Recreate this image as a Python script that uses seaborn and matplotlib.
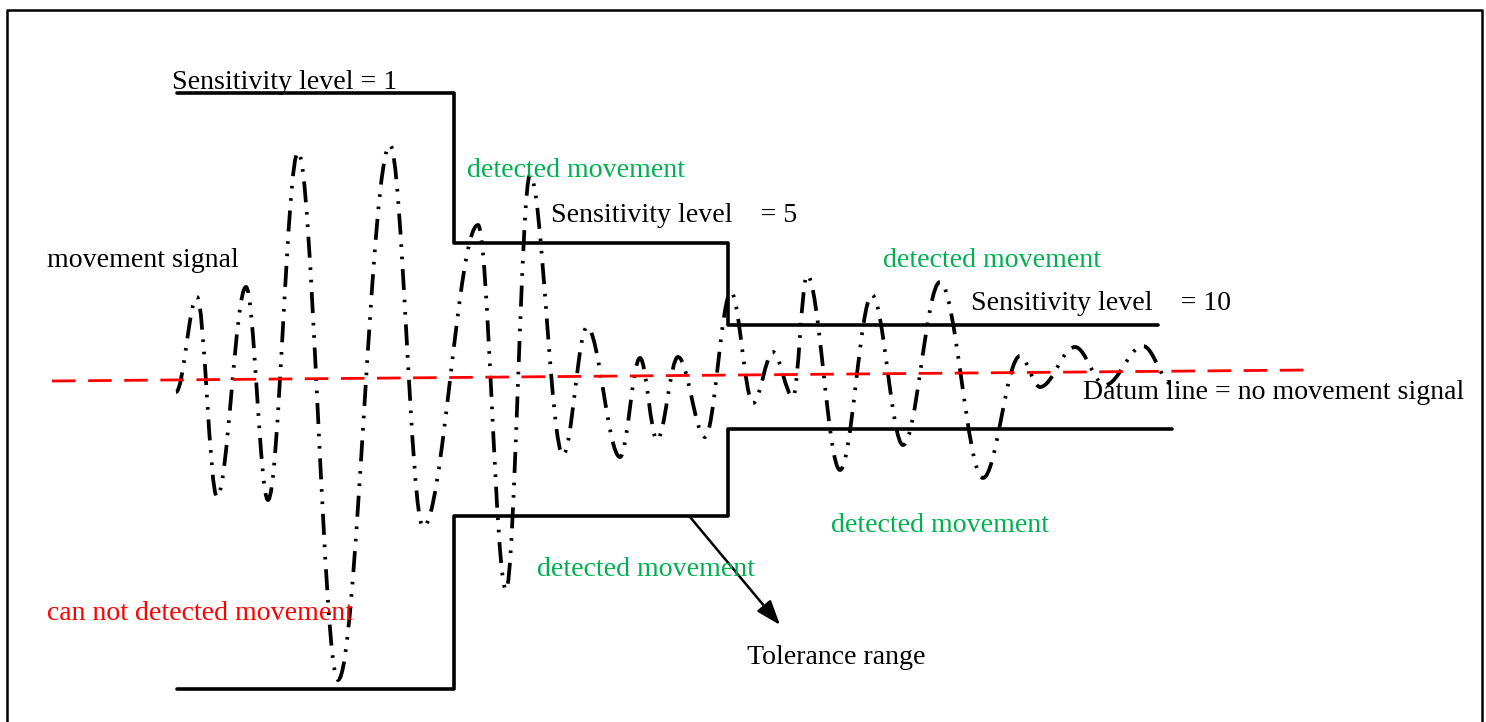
import numpy as np
import pandas as pd
import seaborn as sns
import matplotlib
matplotlib.use("Agg")
import matplotlib.pyplot as plt
from matplotlib.path import Path
from matplotlib.patches import PathPatch, FancyArrowPatch

# ---------------- data (diagram coordinates, pixels, y downwards) ----------------
# movement signal: successive extrema of the oscillation
sig_x = [176, 197, 217, 246, 268, 298, 338, 390, 423, 478, 506, 530, 563, 587, 620,
         640, 657, 678, 705, 731, 753, 773, 793, 807, 840, 872, 903, 940, 983, 1020,
         1040, 1075, 1105, 1143, 1172]
sig_y = [392, 297, 497, 287, 500, 152, 680, 145, 527, 225, 590, 175, 455, 327, 457,
         358, 440, 357, 437, 292, 403, 352, 397, 275, 470, 295, 445, 282, 478, 356,
         387, 347, 385, 346, 384]

# tolerance boundaries (step lines) for sensitivity levels 1, 5, 10
upper_x = [177, 454, 454, 728, 728, 1158]
upper_y = [93, 93, 243, 243, 325, 325]
lower_x = [177, 454, 454, 728, 728, 1172]
lower_y = [689, 689, 516, 516, 429, 429]

# datum line
datum_x = [52, 1310]
datum_y = [381, 370]

labels = [
    ("Sensitivity level = 1", 172, 89, "black"),
    ("detected movement", 467, 177, "green"),
    ("Sensitivity level    = 5", 551, 222, "black"),
    ("movement signal", 47, 267, "black"),
    ("detected movement", 883, 267, "green"),
    ("Sensitivity level    = 10", 971, 310, "black"),
    ("Datum line = no movement signal", 1083, 399, "black"),
    ("detected movement", 831, 532, "green"),
    ("detected movement", 537, 576, "green"),
    ("can not detected movement", 47, 620, "red"),
    ("Tolerance range", 747, 664, "black"),
]
arrow_start = (690, 517)
arrow_end = (780, 625)

colors = {"black": "#000000", "green": "#00B050", "red": "#FF0000"}

# ---------------- drawing ----------------
sns.set_theme(style="white")
plt.rcParams["font.family"] = ["Liberation Serif", "DejaVu Serif"]

W, H = 1486, 722
fig = plt.figure(figsize=(W / 100, H / 100), dpi=100)
ax = fig.add_axes([0, 0, 1, 1])
ax.set_xlim(0, W)
ax.set_ylim(H, 0)
ax.axis("off")

# frame (open at the bottom, continues past the image edge)
ax.plot([7, 7, 1482, 1482], [H + 5, 10, 10, H + 5], color="black", lw=1.8)

# step lines
up = pd.DataFrame({"x": upper_x, "y": upper_y})
lo = pd.DataFrame({"x": lower_x, "y": lower_y})
sns.lineplot(data=up, x="x", y="y", sort=False, estimator=None, color="black",
             lw=2.6, ax=ax)
sns.lineplot(data=lo, x="x", y="y", sort=False, estimator=None, color="black",
             lw=2.6, ax=ax)

# datum line
dt = pd.DataFrame({"x": datum_x, "y": datum_y})
sns.lineplot(data=dt, x="x", y="y", sort=False, estimator=None, color="#FF0000",
             lw=2.0, ax=ax, linestyle=(0, (8.5, 4.5)))

# movement signal: smooth Bezier segments between extrema
verts = [(sig_x[0], sig_y[0])]
codes = [Path.MOVETO]
for i in range(1, len(sig_x)):
    x0, y0 = sig_x[i - 1], sig_y[i - 1]
    x1, y1 = sig_x[i], sig_y[i]
    dx = x1 - x0
    verts += [(x0 + 0.36 * dx, y0), (x1 - 0.36 * dx, y1), (x1, y1)]
    codes += [Path.CURVE4] * 3
patch = PathPatch(Path(verts, codes), fill=False, edgecolor="black", lw=2.7,
                  linestyle=(0, (5.6, 2.6, 0.7, 2.6, 0.7, 2.6)))
ax.add_patch(patch)

# arrow
ax.add_patch(FancyArrowPatch(arrow_start, arrow_end,
                             arrowstyle="-|>,head_length=0.75,head_width=0.27",
                             mutation_scale=20, color="black", lw=1.8,
                             shrinkA=0, shrinkB=0))

for txt, x, y, c in labels:
    ax.text(x, y, txt, color=colors[c], fontsize=20.1, ha="left", va="baseline")

fig.savefig("out.png", dpi=100)
